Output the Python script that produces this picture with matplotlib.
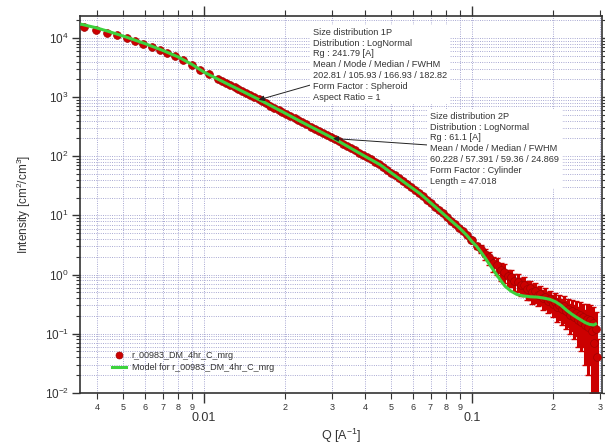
import matplotlib
matplotlib.use('Agg')
import matplotlib.pyplot as plt
from matplotlib.lines import Line2D
from matplotlib.ticker import FixedLocator, FixedFormatter, LogLocator, NullFormatter

plt.rcParams['font.family'] = ['Liberation Sans', 'DejaVu Sans']
plt.rcParams['mathtext.fontset'] = 'custom'
plt.rcParams['mathtext.rm'] = 'Liberation Sans'
plt.rcParams['mathtext.it'] = 'Liberation Sans:italic'

# measured data (Q in 1/A, intensity in cm2/cm3)
q_data = [0.00356, 0.00394, 0.00434, 0.00475, 0.00515, 0.00553, 0.00594, 0.00638,
          0.00686, 0.00726, 0.00780, 0.00838, 0.00900, 0.00966, 0.01040,
          0.0113, 0.0117, 0.0121, 0.0125, 0.0130, 0.0134, 0.0139, 0.0144, 0.0149,
          0.0154, 0.0160, 0.0165, 0.0171, 0.0177, 0.0183, 0.0190, 0.0196, 0.0203,
          0.0210, 0.0218, 0.0225, 0.0233, 0.0241, 0.0250, 0.0259, 0.0268, 0.0277,
          0.0287, 0.0297, 0.0307, 0.0318, 0.0329, 0.0341, 0.0353, 0.0365, 0.0378,
          0.0391, 0.0405, 0.0419, 0.0434, 0.0449, 0.0465, 0.0481, 0.0498, 0.0515,
          0.0533, 0.0552, 0.0571, 0.0591, 0.0612, 0.0633, 0.0655, 0.0678, 0.0702,
          0.0727, 0.0752, 0.0778, 0.0805, 0.0834, 0.0863, 0.0893, 0.0924, 0.0957,
          0.0990,
          0.100, 0.104, 0.108, 0.112, 0.116, 0.120, 0.124, 0.128, 0.132, 0.136,
          0.140, 0.144, 0.148, 0.152, 0.156, 0.160, 0.164, 0.168, 0.172, 0.176,
          0.180, 0.184, 0.188, 0.192, 0.196, 0.200, 0.204, 0.208, 0.212, 0.216,
          0.220, 0.224, 0.228, 0.232, 0.236, 0.240, 0.244, 0.248, 0.252, 0.256,
          0.260, 0.264, 0.268, 0.272, 0.276, 0.280, 0.283, 0.286, 0.289, 0.292]
i_data = [15500, 13900, 12400, 11100, 10000, 9000, 8050, 7150,
          6300, 5650, 4900, 4200, 3500, 2900, 2450,
          2000, 1850, 1715, 1595, 1460, 1365, 1255, 1160, 1075,
          997, 915, 851, 782, 721, 666, 609, 566, 521,
          481, 440, 408, 376, 347, 318, 292, 270, 249,
          229, 211, 195, 180, 164, 150, 137, 126, 115,
          106, 96.4, 88.4, 80.7, 74.0, 66.5, 59.5, 53.1, 47.5,
          42.4, 37.7, 33.8, 30.1, 26.9, 24.0, 21.3, 18.5, 16.2,
          14.1, 12.3, 10.8, 9.41, 8.18, 7.15, 6.24, 5.37, 4.57,
          3.91,
          3.8, 3.0, 2.75, 2.2, 1.95, 1.55, 1.45, 1.18, 1.12, 0.93,
          0.91, 0.77, 0.76, 0.66, 0.67, 0.57, 0.58, 0.50, 0.52, 0.45,
          0.47, 0.40, 0.42, 0.36, 0.38, 0.32, 0.34, 0.28, 0.31, 0.26,
          0.29, 0.24, 0.26, 0.21, 0.24, 0.19, 0.22, 0.17, 0.21, 0.16,
          0.19, 0.14, 0.18, 0.13, 0.17, 0.11, 0.15, 0.07, 0.12, 0.04]
# error bars of the last (high-Q) points
err_hi = [0.30, 0.35, 0.45, 0.45, 0.50, 0.45, 0.45, 0.40, 0.40, 0.28,
          0.30, 0.25, 0.26, 0.22, 0.23, 0.20, 0.21, 0.18, 0.19, 0.16,
          0.17, 0.15, 0.16, 0.14, 0.15, 0.13, 0.14, 0.12, 0.14, 0.12,
          0.14, 0.12, 0.13, 0.11, 0.13, 0.11, 0.13, 0.11, 0.13, 0.11,
          0.13, 0.11, 0.14, 0.11, 0.14, 0.10, 0.13, 0.07, 0.11, 0.04]

# fitted model
q_model = [0.00350, 0.00394, 0.00434, 0.00475, 0.00515, 0.0060, 0.0070, 0.0080,
           0.0090, 0.0100, 0.0113, 0.0130, 0.0150, 0.0170, 0.0200, 0.0230,
           0.0270, 0.0313, 0.0360, 0.0405, 0.0454, 0.0515, 0.0571, 0.0640,
           0.0700, 0.0778, 0.0863, 0.0902, 0.0957, 0.1000, 0.1040, 0.1080,
           0.1120, 0.1160, 0.1200, 0.1240, 0.1280, 0.1330, 0.1400, 0.1470,
           0.1550, 0.1650, 0.1750, 0.1850, 0.1950, 0.2050, 0.2150, 0.2250,
           0.2350, 0.2450, 0.2550, 0.2650, 0.2750, 0.2850, 0.2890]
i_model = [17000, 15000, 13200, 11600, 10300, 8100, 6200, 4800,
           3600, 2650, 2000, 1460, 1060, 795, 540, 385,
           265, 187, 130, 96, 72, 47.5, 33.8, 23.3,
           16.4, 10.8, 7.15, 6.0, 4.57, 3.6, 3.0, 2.4,
           1.9, 1.5, 1.2, 0.97, 0.79, 0.63, 0.52, 0.46,
           0.435, 0.42, 0.415, 0.40, 0.38, 0.345, 0.30, 0.25,
           0.215, 0.19, 0.17, 0.153, 0.143, 0.14, 0.145]

x_major = [0.01, 0.1]
x_major_labels = ['0.01', '0.1']
x_minor = [0.004, 0.005, 0.006, 0.007, 0.008, 0.009,
           0.02, 0.03, 0.04, 0.05, 0.06, 0.07, 0.08, 0.09, 0.2, 0.3]
x_minor_labels = ['4', '5', '6', '7', '8', '9',
                  '2', '3', '4', '5', '6', '7', '8', '9', '2', '3']
y_major = [1e-2, 1e-1, 1e0, 1e1, 1e2, 1e3, 1e4]
y_major_labels = ['$10^{-2}$', '$10^{-1}$', '$10^{0}$', '$10^{1}$',
                  '$10^{2}$', '$10^{3}$', '$10^{4}$']

box1 = ('Size distribution 1P\nDistribution : LogNormal\nRg : 241.79 [A]\n'
        'Mean / Mode / Median / FWHM\n202.81 / 105.93 / 166.93 / 182.82\n'
        'Form Factor : Spheroid\nAspect Ratio = 1')
box2 = ('Size distribution 2P\nDistribution : LogNormal\nRg : 61.1 [A]\n'
        'Mean / Mode / Median / FWHM\n60.228 / 57.391 / 59.36 / 24.869\n'
        'Form Factor : Cylinder\nLength = 47.018')

red = '#cc0000'
green = '#3cd23c'

W, H = 605, 448
fig = plt.figure(figsize=(W / 100, H / 100), dpi=100)
ax = fig.add_axes([80 / W, 1 - 393 / H, 522 / W, 377 / H])
ax.set_xscale('log')
ax.set_yscale('log')
ax.set_xlim(0.003445, 0.3055)
ax.set_ylim(0.0099, 2.36e4)

ax.grid(True, which='both', color='#9c9ccc', linestyle=(0, (1, 1.5)), linewidth=0.65)
ax.set_axisbelow(True)

n_hi = len(err_hi)
ax.errorbar(q_data[-n_hi:], i_data[-n_hi:], yerr=err_hi, fmt='none', ecolor=red,
            elinewidth=2.2, capsize=2.5, capthick=1.0, zorder=2)
ax.plot(q_data, i_data, 'o', ms=5.6, mfc=red, mec='#a00000', mew=0.5, zorder=3)
ax.plot(q_model, i_model, '-', color=green, lw=2.2, zorder=4)

ax.xaxis.set_major_locator(FixedLocator(x_major))
ax.xaxis.set_major_formatter(FixedFormatter(x_major_labels))
ax.xaxis.set_minor_locator(FixedLocator(x_minor))
ax.xaxis.set_minor_formatter(FixedFormatter(x_minor_labels))
ax.yaxis.set_major_locator(FixedLocator(y_major))
ax.yaxis.set_major_formatter(FixedFormatter(y_major_labels))
ax.yaxis.set_minor_locator(LogLocator(base=10, subs=range(2, 10), numticks=100))
ax.yaxis.set_minor_formatter(NullFormatter())

ax.tick_params(axis='x', which='major', direction='out', length=7, width=1,
               labelsize=9, pad=6.5, top=True, colors='#333333')
ax.tick_params(axis='x', which='minor', direction='out', length=4, width=0.8,
               labelsize=6.5, pad=3, top=True, colors='#333333')
ax.tick_params(axis='y', which='major', direction='out', length=6, width=1,
               labelsize=8.5, pad=2, right=True, colors='#333333')
ax.tick_params(axis='y', which='minor', direction='out', length=3, width=0.8,
               right=True, colors='#333333')
for s in ax.spines.values():
    s.set_color('#333333')
    s.set_linewidth(1.2)

ax.set_xlabel('Q [A$^{-1}$]', fontsize=9, color='#333333')
ax.set_ylabel('Intensity [cm$^2$/cm$^3$]', fontsize=8.5, color='#333333')
ax.xaxis.set_label_coords(0.5, -0.09)
ax.yaxis.set_label_coords(-0.09, 0.5)

# annotation boxes
for txt, x, y in [(box1, 313, 28), (box2, 430, 112)]:
    fig.text(x / W, 1 - y / H, txt, fontsize=6.6, color='#333333', va='top', ha='left',
             linespacing=1.25, zorder=6,
             bbox=dict(boxstyle='square,pad=0.3', fc='white', ec='none'))

arrow = dict(arrowstyle='-|>', color='#222222', lw=0.7, mutation_scale=8,
             shrinkA=0, shrinkB=0)
ax.annotate('', xy=(0.016, 900), xycoords='data', xytext=(314, H - 84),
            textcoords='figure pixels', arrowprops=arrow, zorder=7)
ax.annotate('', xy=(0.0303, 200), xycoords='data', xytext=(428, H - 145),
            textcoords='figure pixels', arrowprops=arrow, zorder=7)

handles = [Line2D([], [], marker='o', ls='none', ms=5, mfc=red, mec='#a00000', mew=0.5),
           Line2D([], [], color=green, lw=2.2)]
ax.legend(handles, ['r_00983_DM_4hr_C_mrg', 'Model for r_00983_DM_4hr_C_mrg'],
          loc='lower left', bbox_to_anchor=(0.061, 0.056), frameon=False,
          fontsize=6.5, handlelength=1.6, handletextpad=0.6, labelspacing=0.35,
          borderpad=0, borderaxespad=0, labelcolor='#333333')

fig.savefig('out.png', dpi=100)
